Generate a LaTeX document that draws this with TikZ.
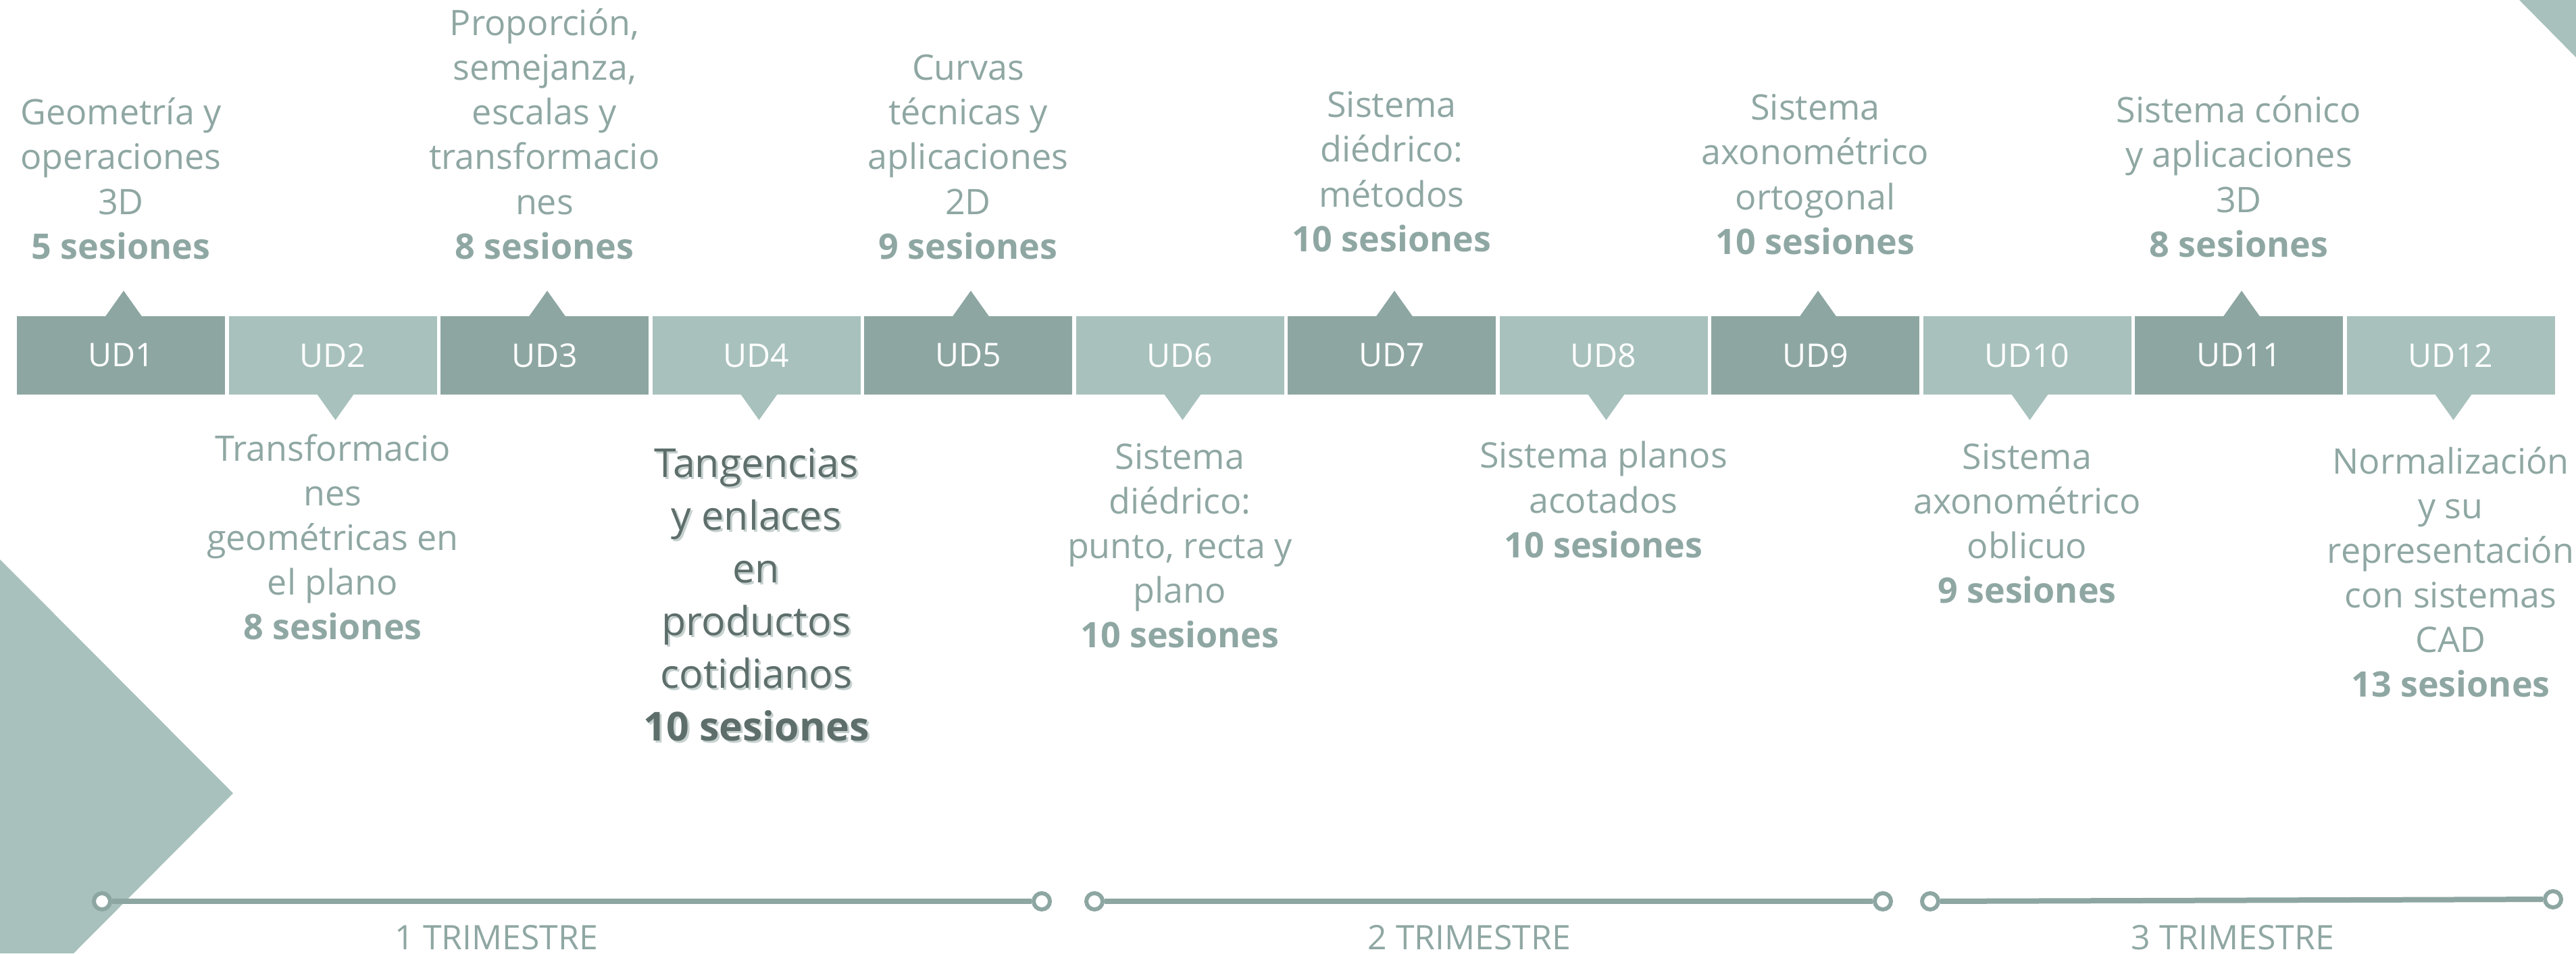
\documentclass[tikz,border=0pt]{standalone}
\usepackage{fontspec}
\setmainfont{Open Sans}
\usetikzlibrary{positioning}
\definecolor{udDark}{HTML}{8DA6A2}
\definecolor{udLight}{HTML}{A8C1BD}
\definecolor{udText}{HTML}{8FA7A3}
\definecolor{udDeep}{HTML}{5D6E6B}
\definecolor{udShade}{HTML}{C6D1CF}
\newcommand{\tangtext}{Tangencias\\y enlaces\\en\\productos\\cotidianos\\\textbf{10 sesiones}}

\begin{document}
\begin{tikzpicture}[
  ud/.style={minimum width=3.08cm,minimum height=1.16cm,inner sep=0pt,text=white,font=\fontsize{13.7}{16}\selectfont},
  topic/.style={align=center,inner sep=0pt,text=udText,font=\fontsize{14.8}{18.8}\selectfont},
  bigtopic/.style={align=center,inner sep=0pt,font=\fontsize{16.8}{22.2}\selectfont},
  ring/.style={circle,draw=udDark,line width=0.06cm,fill=white,minimum size=0.24cm,inner sep=0pt},
  tline/.style={udDark,line width=0.08cm},
  term/.style={anchor=base,text=udText,font=\fontsize{14.2}{17}\selectfont}]
\useasboundingbox (0,0) rectangle (38.13,-14.11);
\fill[udLight] (0,-8.28) -- (3.45,-11.74) -- (1.09,-14.11) -- (0,-14.11) -- cycle;
\fill[udLight] (37.29,0) -- (38.13,0) -- (38.13,-0.85) -- cycle;

\foreach \i in {1,3,...,11}{
  \node[ud,fill=udDark] (ud\i) at ({1.79+(\i-1)*3.135},-5.26) {UD\i};
  \fill[udDark] (ud\i.north) ++(-0.23,-0.01) -- ++(0.27,0.38) -- ++(0.27,-0.38) -- cycle;
}
\foreach \i in {2,4,...,12}{
  \node[ud,fill=udLight] (ud\i) at ({1.79+(\i-1)*3.135},-5.26) {UD\i};
  \fill[udLight] (ud\i.south) ++(-0.23,0.01) -- ++(0.27,-0.38) -- ++(0.27,0.38) -- cycle;
}

\node[topic,above=0.83cm of ud1] (t1) {Geometría y\\operaciones\\3D\\\textbf{5 sesiones}};
\node[topic,above=0.83cm of ud3] (t3) {Proporción,\\semejanza,\\escalas y\\transformacio\\nes\\\textbf{8 sesiones}};
\node[topic,above=0.83cm of ud5] (t5) {Curvas\\técnicas y\\aplicaciones\\2D\\\textbf{9 sesiones}};
\node[topic,above=0.94cm of ud7] (t7) {Sistema\\diédrico:\\métodos\\\textbf{10 sesiones}};
\node[topic,above=0.90cm of ud9] (t9) {Sistema\\axonométrico\\ortogonal\\\textbf{10 sesiones}};
\node[topic,above=0.86cm of ud11] (t11) {Sistema cónico\\y aplicaciones\\3D\\\textbf{8 sesiones}};

\node[topic,below=0.57cm of ud2] (t2) {Transformacio\\nes\\geométricas en\\el plano\\\textbf{8 sesiones}};
\node[bigtopic,text=udShade,below=0.78cm of ud4,xshift=0.03cm,yshift=-0.03cm] {\tangtext};
\node[bigtopic,text=udDeep,below=0.78cm of ud4] (t4) {\tangtext};
\node[topic,below=0.71cm of ud6] (t6) {Sistema\\diédrico:\\punto, recta y\\plano\\\textbf{10 sesiones}};
\node[topic,below=0.68cm of ud8] (t8) {Sistema planos\\acotados\\\textbf{10 sesiones}};
\node[topic,below=0.71cm of ud10] (t10) {Sistema\\axonométrico\\oblicuo\\\textbf{9 sesiones}};
\node[topic,below=0.76cm of ud12] (t12) {Normalización\\y su\\representación\\con sistemas\\CAD\\\textbf{13 sesiones}};

\node[ring] (c1) at (1.51,-13.34) {};
\node[ring] (c2) at (15.42,-13.34) {};
\node[ring] (c3) at (16.20,-13.34) {};
\node[ring] (c4) at (27.87,-13.34) {};
\node[ring] (c5) at (28.57,-13.34) {};
\node[ring] (c6) at (37.79,-13.31) {};
\draw[tline] (c1) -- (c2);
\draw[tline] (c3) -- (c4);
\draw[tline] (c5) -- (c6);
\node[term] (q1) at (7.35,-14.05) {1 TRIMESTRE};
\node[term] (q2) at (21.75,-14.05) {2 TRIMESTRE};
\node[term] (q3) at (33.05,-14.05) {3 TRIMESTRE};
\end{tikzpicture}
\end{document}
